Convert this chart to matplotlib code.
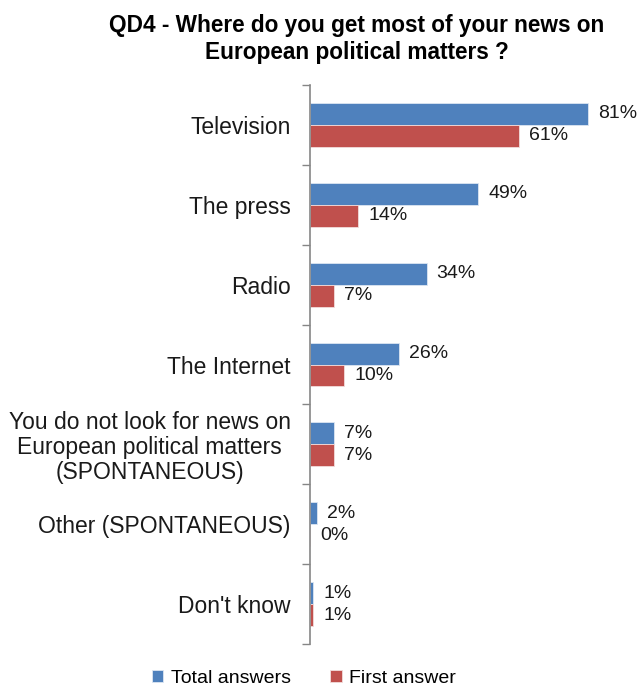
import numpy as np
import matplotlib.pyplot as plt

categories = [
    "Television",
    "The press",
    "Radio",
    "The Internet",
    "You do not look for news on\nEuropean political matters\n(SPONTANEOUS)",
    "Other (SPONTANEOUS)",
    "Don't know",
]
total_answers = [81, 49, 34, 26, 7, 2, 1]
first_answer = [61, 14, 7, 10, 7, 0, 1]

plt.rcParams["font.family"] = ["Liberation Sans", "DejaVu Sans"]

fig = plt.figure(figsize=(6.4, 6.87), dpi=100)
ax = fig.add_axes([310 / 640, 43 / 687, 330 / 640, 559 / 687])

y = np.arange(len(categories))
h = 0.275
blue = "#4F81BD"
red = "#C0504D"
b1 = ax.barh(y - h / 2, total_answers, height=h, color=blue, edgecolor="#dce6f2", linewidth=0.6)
b2 = ax.barh(y + h / 2, first_answer, height=h, color=red, edgecolor="#f2dcdb", linewidth=0.6)

for bars, vals in ((b1, total_answers), (b2, first_answer)):
    for bar, v in zip(bars, vals):
        ax.annotate(f"{v}%", (v, bar.get_y() + bar.get_height() / 2),
                    xytext=(10, 0), textcoords="offset pixels",
                    va="center", ha="left", fontsize=14, color="#1a1a1a")

ax.set_xlim(0, 96.2)
ax.set_ylim(len(categories) - 0.5, -0.5)
ax.set_xticks([])

# boundary ticks on the axis, labels at the category centres
ax.set_yticks(np.arange(len(categories) + 1) - 0.5)
ax.set_yticklabels([])
ax.tick_params(axis="y", which="major", length=6, width=1, color="#868686", direction="out")
ax.set_yticks(y, categories, minor=True)
ax.tick_params(axis="y", which="minor", length=0, pad=14, labelsize=16.5, labelcolor="#1a1a1a")
for lab in ax.get_yticklabels(minor=True):
    lab.set_multialignment("center")
    lab.set_linespacing(1.1)

for s in ["top", "right", "bottom"]:
    ax.spines[s].set_visible(False)
ax.spines["left"].set_color("#868686")
ax.spines["left"].set_linewidth(1.2)

fig.text(0.558, 0.963, "QD4 - Where do you get most of your news on", ha="center", va="center",
         fontsize=16.3, fontweight="bold")
fig.text(0.558, 0.924, "European political matters ?", ha="center", va="center",
         fontsize=16.3, fontweight="bold")

fig.legend([b1, b2], ["Total answers", "First answer"], loc="center",
           bbox_to_anchor=(0.475, 0.013), ncol=2, frameon=False, fontsize=14,
           handlelength=0.6, handleheight=0.6, columnspacing=2.0, handletextpad=0.4)

fig.savefig("out.png", dpi=100)
